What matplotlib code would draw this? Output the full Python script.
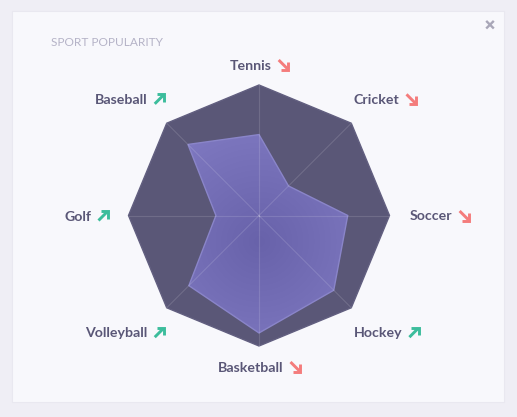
import numpy as np
import matplotlib
matplotlib.use("Agg")
import matplotlib.pyplot as plt
from matplotlib.patches import Polygon, Rectangle

# ---- data ----
categories = ["Tennis", "Cricket", "Soccer", "Hockey", "Basketball", "Volleyball", "Golf", "Baseball"]
values = [62, 32, 68, 81, 90, 76, 33, 77]
trends = ["down", "down", "down", "up", "down", "up", "up", "up"]
max_value = 100
title = "SPORT POPULARITY"

# ---- style ----
BG = "#efeef5"
CARD = "#f8f8fc"
SLATE = "#5a5777"
LABEL = "#5a5777"
TITLE_C = "#b5b3c7"
RED = "#f47c7c"
GREEN = "#3cbd9c"
CLOSE_C = "#a9a7b8"

W, H = 517, 417
PX = 130.5                      # pixels per unit radius
CX, CY = 259, 215.5             # chart centre (pixels from top-left)

fig = plt.figure(figsize=(W / 100, H / 100), dpi=100)
fig.patch.set_facecolor(BG)
fig.patches.append(Rectangle((12 / W, 1 - 402 / H), 492 / W, 391 / H, transform=fig.transFigure,
                             facecolor=CARD, edgecolor="#e9e8f0", linewidth=0.8, zorder=-10))

ax = fig.add_axes([0, 0, 1, 1])
ax.set_zorder(1)
ax.axis("off")
ax.patch.set_alpha(0)

n = len(categories)
angles = np.pi / 2 - np.arange(n) * 2 * np.pi / n
cosv, sinv = np.cos(angles), np.sin(angles)

# outer octagon
outer = np.column_stack([cosv, sinv])
ax.add_patch(Polygon(outer, closed=True, facecolor=SLATE, edgecolor="#625f80", linewidth=1.0, zorder=1))

# data polygon with radial gradient
r = np.array(values) / max_value
pts = np.column_stack([r * cosv, r * sinv])
poly = Polygon(pts, closed=True, facecolor="none", edgecolor="#8a85c9", linewidth=1.0, zorder=3)
ax.add_patch(poly)
gx, gy = np.meshgrid(np.linspace(-1, 1, 300), np.linspace(-1, 1, 300))
d = np.sqrt(gx ** 2 + (gy + 0.2) ** 2)
d = np.clip(d / 1.1, 0, 1)
c0 = np.array([104, 98, 170]) / 255
c1 = np.array([130, 124, 196]) / 255
img = c0[None, None, :] * (1 - d[..., None]) + c1[None, None, :] * d[..., None]
im = ax.imshow(img, extent=(-1, 1, -1, 1), origin="lower", zorder=2, interpolation="bilinear")
clip = Polygon(pts, closed=True, transform=ax.transData)
im.set_clip_path(clip)
ax.set_xlim(-CX / PX, (W - CX) / PX)
ax.set_ylim(-(H - CY) / PX, CY / PX)
ax.set_aspect("auto")

# spokes
for c, s in zip(cosv, sinv):
    ax.plot([0, c], [0, s], color="white", alpha=0.13, linewidth=0.8, zorder=4)

# title
fig.text(51 / W, 1 - 46.3 / H, title, fontsize=8.6, color=TITLE_C, family="Lato",
         ha="left", va="baseline")

# close button
s = 3.8 / PX
cx_, cy_ = (490 - CX) / PX, (CY - 24.7) / PX
ax.plot([cx_ - s, cx_ + s], [cy_ - s, cy_ + s], color=CLOSE_C, lw=1.7, solid_capstyle="butt")
ax.plot([cx_ - s, cx_ + s], [cy_ + s, cy_ - s], color=CLOSE_C, lw=1.7, solid_capstyle="butt")

# labels
fig.canvas.draw()
renderer = fig.canvas.get_renderer()
AW = 9.5  # arrow size px
GAP = 7
LW = 2.1
for i, (name, trend) in enumerate(zip(categories, trends)):
    a = angles[i]
    k = abs(np.sin(2 * a))
    ax_px = (151 - 17 * k) * np.cos(a)
    ay_px = (151 + 14 * k) * np.sin(a)
    if abs(np.cos(a)) < 1e-6:
        frac = 0.5
    elif np.cos(a) > 0:
        frac = 0.0
    else:
        frac = 1.0
    base_y = -ay_px + 5  # baseline y offset in pixels (down positive)
    t = ax.text(0, 0, name, fontsize=10.2, fontweight="bold", family="Lato", color=LABEL,
                ha="left", va="baseline")
    tw = t.get_window_extent(renderer).width
    total = tw + GAP + AW
    left = ax_px - frac * total
    t.set_position((left / PX, -base_y / PX))
    x0 = (left + tw + GAP) / PX
    x1 = x0 + AW / PX
    yb = -base_y / PX
    yt = yb + AW / PX
    h = 7.5 / PX
    col = RED if trend == "down" else GREEN
    if trend == "down":
        ax.plot([x0, x1 - 0.8 / PX], [yt, yb + 0.8 / PX], color=col, lw=LW, solid_capstyle="butt")
        ax.plot([x1 - h, x1, x1], [yb, yb, yb + h], color=col, lw=LW,
                solid_joinstyle="miter", solid_capstyle="butt")
    else:
        ax.plot([x0, x1 - 0.8 / PX], [yb, yt - 0.8 / PX], color=col, lw=LW, solid_capstyle="butt")
        ax.plot([x1 - h, x1, x1], [yt, yt, yt - h], color=col, lw=LW,
                solid_joinstyle="miter", solid_capstyle="butt")

fig.savefig("out.png", dpi=100, facecolor=BG)
